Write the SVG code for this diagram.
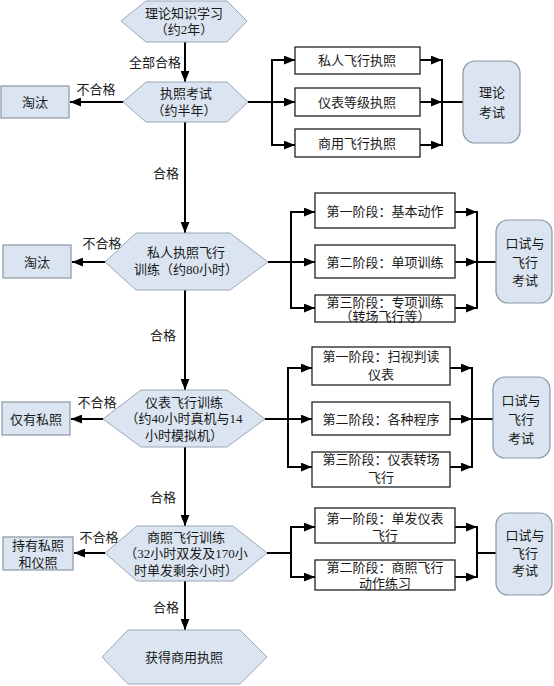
<svg xmlns="http://www.w3.org/2000/svg" width="554" height="686" viewBox="0 0 554 686">
<style>
text{font-family:"Liberation Serif","Noto Sans CJK SC",serif;font-size:13px;fill:#1a1a1a;text-anchor:middle;dominant-baseline:central}
.hex{fill:#dbe5f1;stroke:#9aa6b8;stroke-width:1}
.gbox{fill:#dbe5f1;stroke:#8c96a6;stroke-width:1.2}
.wbox{fill:#fff;stroke:#222;stroke-width:1.3}
.rbox{fill:#dbe5f1;stroke:#8c96a6;stroke-width:1.2}
.c{fill:none;stroke:#000;stroke-width:2}
.a{fill:none;stroke:#000;stroke-width:2;marker-end:url(#ah)}
</style>
<defs>
<marker id="ah" viewBox="0 0 10 8" refX="10" refY="4" markerWidth="11" markerHeight="9" orient="auto" markerUnits="userSpaceOnUse"><path d="M0,0 L10,4 L0,8 z" fill="#000"/></marker>
</defs>
<g id="connectors">
<line class="a" x1="185" y1="42" x2="185" y2="82"/>
<line class="a" x1="185" y1="122" x2="185" y2="233"/>
<line class="a" x1="185" y1="290" x2="185" y2="390"/>
<line class="a" x1="185" y1="447" x2="185" y2="526"/>
<line class="a" x1="185" y1="581" x2="185" y2="630"/>
<line class="a" x1="123" y1="102" x2="70" y2="102"/>
<line class="a" x1="105" y1="262" x2="72" y2="262"/>
<line class="a" x1="103" y1="419" x2="71" y2="419"/>
<line class="a" x1="105" y1="553" x2="74" y2="553"/>
<!-- group 1 -->
<line class="c" x1="248" y1="102" x2="272" y2="102"/>
<polyline class="c" points="295,60 272,60 272,145 295,145"/>
<line class="a" x1="272" y1="60" x2="295" y2="60"/>
<line class="a" x1="272" y1="102" x2="295" y2="102"/>
<line class="a" x1="272" y1="145" x2="295" y2="145"/>
<line class="c" x1="442" y1="59" x2="442" y2="146"/>
<line class="a" x1="420" y1="60" x2="442" y2="60"/>
<line class="a" x1="420" y1="102" x2="442" y2="102"/>
<line class="a" x1="420" y1="145" x2="442" y2="145"/>
<line class="c" x1="442" y1="102" x2="463" y2="102"/>
<!-- group 2 -->
<line class="c" x1="268" y1="262" x2="291" y2="262"/>
<line class="c" x1="291" y1="211" x2="291" y2="309"/>
<line class="a" x1="291" y1="212" x2="315" y2="212"/>
<line class="a" x1="291" y1="262" x2="315" y2="262"/>
<line class="a" x1="291" y1="308" x2="315" y2="308"/>
<line class="c" x1="477" y1="211" x2="477" y2="309"/>
<line class="a" x1="455" y1="212" x2="477" y2="212"/>
<line class="a" x1="455" y1="262" x2="477" y2="262"/>
<line class="a" x1="455" y1="308" x2="477" y2="308"/>
<line class="c" x1="477" y1="262" x2="496" y2="262"/>
<!-- group 3 -->
<line class="c" x1="265" y1="419" x2="288" y2="419"/>
<line class="c" x1="288" y1="367" x2="288" y2="468"/>
<line class="a" x1="288" y1="368" x2="312" y2="368"/>
<line class="a" x1="288" y1="419" x2="312" y2="419"/>
<line class="a" x1="288" y1="467" x2="312" y2="467"/>
<line class="c" x1="472" y1="367" x2="472" y2="468"/>
<line class="a" x1="450" y1="368" x2="472" y2="368"/>
<line class="a" x1="450" y1="419" x2="472" y2="419"/>
<line class="a" x1="450" y1="467" x2="472" y2="467"/>
<line class="c" x1="472" y1="419" x2="493" y2="419"/>
<!-- group 4 -->
<line class="c" x1="267" y1="553" x2="291" y2="553"/>
<line class="c" x1="291" y1="526" x2="291" y2="578"/>
<line class="a" x1="291" y1="527" x2="315" y2="527"/>
<line class="a" x1="291" y1="577" x2="315" y2="577"/>
<line class="c" x1="477" y1="526" x2="477" y2="578"/>
<line class="a" x1="455" y1="527" x2="477" y2="527"/>
<line class="a" x1="455" y1="577" x2="477" y2="577"/>
<line class="c" x1="477" y1="553" x2="496" y2="553"/>
</g>
<g id="labels">
<text x="155" y="62">全部合格</text>
<text x="166" y="173">合格</text>
<text x="163" y="335">合格</text>
<text x="163" y="497">合格</text>
<text x="166" y="607">合格</text>
<text x="96" y="89">不合格</text>
<text x="102" y="243">不合格</text>
<text x="97" y="402">不合格</text>
<text x="99" y="537">不合格</text>
</g>
<g id="n1"><polygon class="hex" points="121,21 146,1 227,1 247,21 227,42 146,42"/><text x="184" y="13">理论知识学习</text><text x="184" y="29">（约2年）</text></g>
<g id="n2"><polygon class="hex" points="123,102 146,82 227,82 248,102 227,122 146,122"/><text x="186" y="93">执照考试</text><text x="184" y="110">（约半年）</text></g>
<g id="n3"><polygon class="hex" points="105,262 136,233 230,233 268,262 230,290 136,290"/><text x="186" y="252">私人执照飞行</text><text x="186" y="269">训练（约80小时）</text></g>
<g id="n4"><polygon class="hex" points="103,419 141,390 227,390 265,419 227,447 141,447"/><text x="184" y="402">仪表飞行训练</text><text x="184" y="418">（约40小时真机与14</text><text x="184" y="435">小时模拟机）</text></g>
<g id="n5"><polygon class="hex" points="105,553 137,526 233,526 267,553 233,581 137,581"/><text x="186" y="537">商照飞行训练</text><text x="186" y="553">（32小时双发及170小</text><text x="186" y="570">时单发剩余小时）</text></g>
<g id="n6"><polygon class="hex" points="102,657 128,630 240,630 267,657 240,684 128,684"/><text x="184" y="657">获得商用执照</text></g>
<g id="f1"><rect class="gbox" x="1" y="86" width="68" height="32"/><text x="35" y="102">淘汰</text></g>
<g id="f2"><rect class="gbox" x="3" y="245" width="68" height="33"/><text x="37" y="262">淘汰</text></g>
<g id="f3"><rect class="gbox" x="2" y="402" width="68" height="33"/><text x="36" y="419">仅有私照</text></g>
<g id="f4"><rect class="gbox" x="3" y="537" width="70" height="33"/><text x="38" y="545">持有私照</text><text x="38" y="562">和仪照</text></g>
<g id="b1a"><rect class="wbox" x="295" y="47" width="125" height="27"/><text x="357" y="60">私人飞行执照</text></g>
<g id="b1b"><rect class="wbox" x="295" y="88" width="125" height="28"/><text x="357" y="102">仪表等级执照</text></g>
<g id="b1c"><rect class="wbox" x="295" y="129" width="125" height="28"/><text x="357" y="143">商用飞行执照</text></g>
<g id="r1"><rect class="rbox" x="463" y="61" width="57" height="82" rx="12"/><text x="492" y="92">理论</text><text x="492" y="112">考试</text></g>
<g id="b2a"><rect class="wbox" x="315" y="193" width="140" height="35"/><text x="385" y="211">第一阶段：基本动作</text></g>
<g id="b2b"><rect class="wbox" x="315" y="245" width="140" height="33"/><text x="385" y="262">第二阶段：单项训练</text></g>
<g id="b2c"><rect class="wbox" x="315" y="295" width="140" height="27"/><text x="385" y="302">第三阶段：专项训练</text><text x="385" y="316">（转场飞行等）</text></g>
<g id="r2"><rect class="rbox" x="496" y="220" width="56" height="83" rx="12"/><text x="525" y="243">口试与</text><text x="525" y="262">飞行</text><text x="525" y="280">考试</text></g>
<g id="b3a"><rect class="wbox" x="312" y="347" width="138" height="38"/><text x="381" y="356">第一阶段：扫视判读</text><text x="381" y="374">仪表</text></g>
<g id="b3b"><rect class="wbox" x="312" y="402" width="138" height="33"/><text x="381" y="419">第二阶段：各种程序</text></g>
<g id="b3c"><rect class="wbox" x="312" y="452" width="138" height="35"/><text x="381" y="459">第三阶段：仪表转场</text><text x="381" y="477">飞行</text></g>
<g id="r3"><rect class="rbox" x="493" y="377" width="57" height="81" rx="12"/><text x="521" y="400">口试与</text><text x="521" y="419">飞行</text><text x="521" y="438">考试</text></g>
<g id="b4a"><rect class="wbox" x="315" y="508" width="140" height="35"/><text x="385" y="518">第一阶段：单发仪表</text><text x="385" y="535">飞行</text></g>
<g id="b4b"><rect class="wbox" x="315" y="560" width="140" height="30"/><text x="385" y="567">第二阶段：商照飞行</text><text x="385" y="583">动作练习</text></g>
<g id="r4"><rect class="rbox" x="496" y="513" width="56" height="82" rx="12"/><text x="525" y="535">口试与</text><text x="525" y="553">飞行</text><text x="525" y="570">考试</text></g>
</svg>
